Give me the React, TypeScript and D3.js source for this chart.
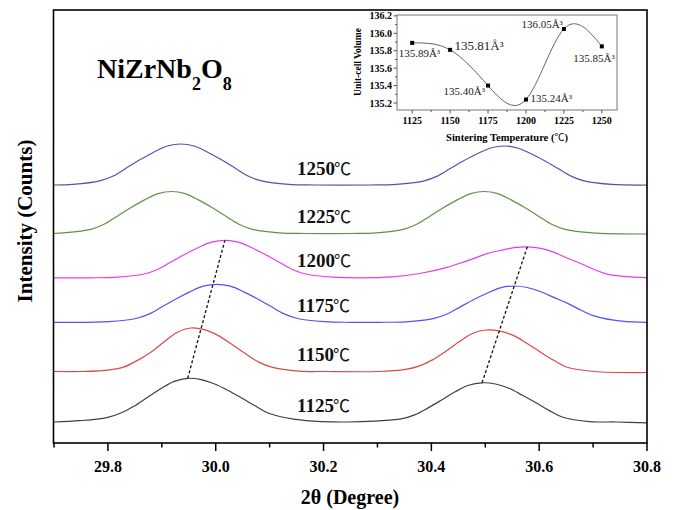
import React from 'react';
import * as d3 from 'd3';

type Pt = [number, number];

// ---------- main chart data ----------
const temperatures = ['1125', '1150', '1175', '1200', '1225', '1250'];
// vertical stacking offset of each pattern (intensity units)
const baselineOffsets = [21, 71.5, 120.7, 165.2, 209.5, 258];

// [2θ, intensity above baseline]
const xrd1125: Pt[] = [[29.70,0],[29.748,1.3],[29.798,4.4],[29.823,8.7],[29.848,15.7],[29.873,24.5],[29.898,33.2],[29.923,40.6],[29.948,43.7],[29.973,42.4],[29.998,38],[30.023,31.5],[30.048,24],[30.073,16.2],[30.098,8.7],[30.148,2.6],[30.198,0.4],[30.244,0],[30.294,0.8],[30.344,3.1],[30.369,7.1],[30.394,14.1],[30.419,22],[30.444,30.2],[30.469,36.8],[30.494,39.2],[30.519,38],[30.544,33.7],[30.569,26.7],[30.594,19.2],[30.619,11.4],[30.644,4.7],[30.694,0.4],[30.744,0],[30.80,-0.8]];
const xrd1150: Pt[] = [[29.70,0],[29.754,0],[29.804,1.7],[29.829,4.4],[29.854,10.9],[29.879,19.1],[29.904,29.6],[29.929,39.2],[29.954,43.5],[29.979,41.8],[30.004,36.1],[30.029,27.4],[30.054,18.3],[30.079,9.6],[30.104,4.4],[30.154,0.4],[30.204,0],[30.302,0],[30.352,2.1],[30.377,5.4],[30.402,11.6],[30.427,20.3],[30.452,29.9],[30.477,38.2],[30.502,41.5],[30.527,40.3],[30.552,36.1],[30.577,28.2],[30.602,19.5],[30.627,11.2],[30.652,4.2],[30.702,0],[30.80,-1]];
const xrd1175: Pt[] = [[29.70,0],[29.802,0.6],[29.852,3.8],[29.877,8.4],[29.902,16],[29.927,23.6],[29.952,30.4],[29.977,36.1],[30.002,38],[30.027,36.1],[30.052,30.4],[30.077,23.6],[30.102,16],[30.127,8.4],[30.152,3.8],[30.202,0.6],[30.252,0],[30.303,0],[30.353,0.5],[30.403,3.6],[30.428,8],[30.453,15.2],[30.478,22.5],[30.503,29],[30.528,34.5],[30.553,36.3],[30.578,34.8],[30.603,30.5],[30.628,24.7],[30.653,18.9],[30.678,12],[30.703,6.2],[30.753,1.1],[30.80,0]];
const xrd1200: Pt[] = [[29.70,0],[29.767,0],[29.817,0.6],[29.867,3.8],[29.892,8.3],[29.917,15.8],[29.942,23.3],[29.967,30],[29.992,35.6],[30.017,37.5],[30.042,35.6],[30.067,30],[30.092,23.3],[30.117,15.8],[30.142,8.3],[30.167,3.8],[30.217,0.6],[30.27,0],[30.328,0.9],[30.378,4.3],[30.428,10.2],[30.453,14.6],[30.478,19.2],[30.503,24.2],[30.528,27.3],[30.553,30.1],[30.578,31],[30.603,29.5],[30.628,25.4],[30.653,19.5],[30.678,14],[30.703,8.1],[30.728,3.4],[30.778,0.6],[30.80,0]];
const xrd1225: Pt[] = [[29.70,0],[29.718,0.6],[29.768,4.2],[29.793,9.2],[29.818,17.6],[29.843,26],[29.868,33.6],[29.893,39.9],[29.918,42],[29.943,39.9],[29.968,33.6],[29.993,26],[30.018,17.6],[30.043,9.2],[30.068,4.2],[30.118,0.6],[30.168,0],[30.248,0],[30.298,0.6],[30.348,4.2],[30.373,9.2],[30.398,17.6],[30.423,26],[30.448,33.6],[30.473,39.9],[30.498,42],[30.523,39.9],[30.548,33.6],[30.573,26],[30.598,17.6],[30.623,9.2],[30.648,4.2],[30.698,0.6],[30.80,-0.5]];
const xrd1250: Pt[] = [[29.70,0],[29.735,0.6],[29.785,4.1],[29.81,9],[29.835,17.2],[29.86,25.4],[29.885,32.8],[29.91,39],[29.935,41],[29.96,39],[29.985,32.8],[30.01,25.4],[30.035,17.2],[30.06,9],[30.085,4.1],[30.135,0.6],[30.185,0],[30.285,0],[30.335,0.6],[30.385,3.9],[30.41,8.6],[30.435,16.4],[30.46,24.2],[30.485,31.2],[30.51,37],[30.535,39],[30.56,37],[30.585,31.2],[30.61,24.2],[30.635,16.4],[30.66,8.6],[30.685,3.9],[30.735,0.6],[30.80,0]];
const xrdSeries = [xrd1125, xrd1150, xrd1175, xrd1200, xrd1225, xrd1250];

const xTickLabels = [29.8, 30.0, 30.2, 30.4, 30.6, 30.8];

// ---------- inset data ----------
const insetTemperatures = [1125, 1150, 1175, 1200, 1225, 1250];
const insetVolumes = [135.89, 135.81, 135.40, 135.24, 136.05, 135.85];
const insetXTicks = [1125, 1150, 1175, 1200, 1225, 1250];
const insetYTicks = [135.2, 135.4, 135.6, 135.8, 136.0, 136.2];

// ---------- styles ----------
const lineColors = ['#404040', '#e04848', '#5252f5', '#e83ce8', '#5e9445', '#5a50aa'];
const insetLabelPlacement = [
  { dx: -13.5, dy: 14.4, size: 11 },
  { dx: 4.5, dy: 0.5, size: 13 },
  { dx: -44.5, dy: 9.6, size: 11 },
  { dx: 4.5, dy: 2.5, size: 11 },
  { dx: -42.5, dy: -0.5, size: 11 },
  { dx: -28.5, dy: 15.3, size: 11 },
];
const FONT = '"Liberation Serif", "Times New Roman", serif';
const CJK = '"Noto Sans CJK SC", "DejaVu Sans", sans-serif';

export default function App() {
  const W = 676, H = 510;
  const x = d3.scaleLinear().domain([29.7, 30.8]).range([54, 647]);
  const y = d3.scaleLinear().domain([0, 433]).range([443, 10]);
  const line = d3.line<Pt>().x(d => x(d[0])).y(d => y(d[1])).curve(d3.curveCatmullRom.alpha(0.5));

  const allTicks = d3.range(0, 12).map(i => +(29.7 + i * 0.1).toFixed(1));
  const isMajor = (v: number) => Math.round(v * 10) % 2 === 0;

  const peak = (s: Pt[], lo: number, hi: number) =>
    d3.greatest(s.filter(p => p[0] > lo && p[0] < hi), p => p[1]) as Pt;
  const dashed = [[29.7, 30.25], [30.25, 30.8]].map(([lo, hi]) => {
    const a = peak(xrd1125, lo, hi);
    const b = peak(xrd1200, lo, hi);
    return {
      x1: x(a[0]), y1: y(a[1] + baselineOffsets[0]),
      x2: x(b[0]), y2: y(b[1] + baselineOffsets[3]),
    };
  });

  // inset scales
  const ix = d3.scaleLinear().domain([1115, 1260]).range([397, 617]);
  const iy = d3.scaleLinear().domain([135.12, 136.21]).range([110, 15]);
  const insetPts: Pt[] = insetTemperatures.map((t, i) => [t, insetVolumes[i]]);
  const insetLine = d3.line<Pt>().x(d => ix(d[0])).y(d => iy(d[1])).curve(d3.curveNatural);
  const insetMinorX = d3.range(1137.5, 1250, 25);
  const insetMinorY = d3.range(0, 10).map(i => +(135.3 + i * 0.2).toFixed(1)).filter(v => v < 136.2);

  return (
    <svg width={W} height={H} style={{ position: 'absolute', left: 0, top: 0 }}>
      <rect x={0} y={0} width={W} height={H} fill="#fff" />

      {/* patterns */}
      {xrdSeries.map((s, i) => (
        <path key={i} d={line(s.map(([t, h]) => [t, h + baselineOffsets[i]] as Pt)) || ''}
          fill="none" stroke={lineColors[i]} strokeWidth={1.2} />
      ))}

      {dashed.map((d, i) => (
        <line key={i} {...d} stroke="#111" strokeWidth={1.3} strokeDasharray="3,2.2" />
      ))}

      {temperatures.map((t, i) => (
        <text key={t} x={297} y={y(baselineOffsets[i]) - 10.5} fontFamily={FONT}
          fontWeight="bold" fontSize={19} fill="#111">
          {t}<tspan fontFamily={CJK} fontWeight="normal" fontSize={17} dx={-1}>℃</tspan>
        </text>
      ))}

      {/* frame */}
      <rect x={53.5} y={10} width={593.5} height={433} fill="none" stroke="#000" strokeWidth={1.6} />
      {allTicks.map(v => (
        <line key={v} x1={x(v)} x2={x(v)} y1={443} y2={443 + (isMajor(v) ? 8 : 4.5)}
          stroke="#000" strokeWidth={1.5} />
      ))}
      {xTickLabels.map(v => (
        <text key={v} x={x(v)} y={472} textAnchor="middle" fontFamily={FONT}
          fontWeight="bold" fontSize={16}>{v.toFixed(1)}</text>
      ))}
      <text x={350} y={504} textAnchor="middle" fontFamily={FONT} fontWeight="bold" fontSize={20}>
        2θ (Degree)
      </text>
      <text transform="translate(32,221) rotate(-90)" textAnchor="middle" fontFamily={FONT}
        fontWeight="bold" fontSize={21}>Intensity (Counts)</text>

      {/* compound title */}
      <text x={97} y={78} fontFamily={FONT} fontWeight="bold" fontSize={28}>
        NiZrNb<tspan fontSize={18} dy={12}>2</tspan><tspan fontSize={28} dy={-12}>O</tspan><tspan fontSize={18} dy={12}>8</tspan>
      </text>

      {/* inset */}
      <rect x={397} y={15} width={220} height={95} fill="none" stroke="#777" strokeWidth={1} />
      {insetXTicks.map(v => (
        <g key={v}>
          <line x1={ix(v)} x2={ix(v)} y1={110} y2={113.5} stroke="#555" strokeWidth={1} />
          <text x={ix(v)} y={124} textAnchor="middle" fontFamily={FONT} fontWeight="bold" fontSize={10}>{v}</text>
        </g>
      ))}
      {insetMinorX.map(v => (
        <line key={v} x1={ix(v)} x2={ix(v)} y1={110} y2={112} stroke="#555" strokeWidth={1} />
      ))}
      {insetYTicks.map(v => (
        <g key={v}>
          <line x1={397} x2={393.5} y1={iy(v)} y2={iy(v)} stroke="#555" strokeWidth={1} />
          <text x={392} y={iy(v) + 3.5} textAnchor="end" fontFamily={FONT} fontWeight="bold" fontSize={10}>{v.toFixed(1)}</text>
        </g>
      ))}
      {insetMinorY.map(v => (
        <line key={v} x1={397} x2={395} y1={iy(v)} y2={iy(v)} stroke="#555" strokeWidth={1} />
      ))}
      <text x={507} y={141} textAnchor="middle" fontFamily={FONT} fontWeight="bold" fontSize={10.5}>
        Sintering Temperature (<tspan fontFamily={CJK} fontWeight="normal" fontSize={10}>℃</tspan>)
      </text>
      <text transform="translate(361,62) rotate(-90)" textAnchor="middle" fontFamily={FONT}
        fontWeight="bold" fontSize={9.5}>Unit-cell Volume</text>
      <path d={insetLine(insetPts) || ''} fill="none" stroke="#555" strokeWidth={0.9} />
      {insetPts.map((p, i) => (
        <rect key={i} x={ix(p[0]) - 2} y={iy(p[1]) - 2} width={4} height={4} fill="#000" />
      ))}
      {insetPts.map((p, i) => (
        <text key={'l' + i} x={ix(p[0]) + insetLabelPlacement[i].dx} y={iy(p[1]) + insetLabelPlacement[i].dy}
          fontFamily={FONT} fontSize={insetLabelPlacement[i].size} fill="#222">
          {p[1].toFixed(2)}Å³
        </text>
      ))}
    </svg>
  );
}
